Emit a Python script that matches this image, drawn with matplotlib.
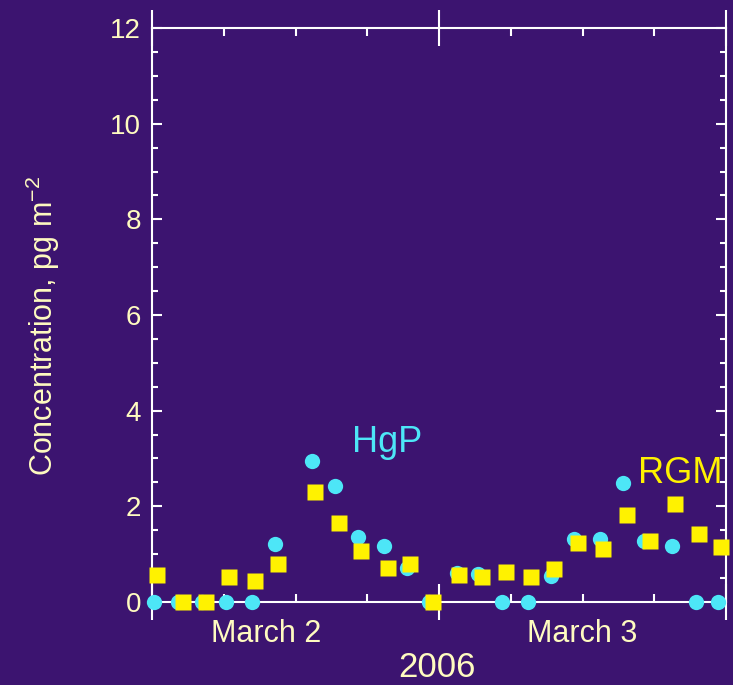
#!/usr/bin/env python3
"""HgP and RGM concentrations, March 2-3 2006."""

import matplotlib

matplotlib.use("Agg")
import matplotlib.pyplot as plt
from matplotlib.ticker import MultipleLocator

# hours since start of March 2, 2006
hgp_hours = [0.2, 2.2, 4.2, 6.2, 8.4, 10.3, 13.4, 15.3, 17.2, 19.4, 21.3, 23.2,
             25.5, 27.3, 29.3, 31.4, 33.4, 35.3, 37.5, 39.4, 41.1, 43.5, 45.5, 47.3]
hgp_values = [0, 0, 0, 0, 0, 1.21, 2.94, 2.43, 1.36, 1.16, 0.72, 0,
              0.61, 0.58, 0, 0, 0.55, 1.32, 1.32, 2.48, 1.28, 1.16, 0, 0]

rgm_hours = [0.4, 2.6, 4.5, 6.4, 8.6, 10.5, 13.6, 15.6, 17.5, 19.7, 21.6, 23.5,
             25.7, 27.6, 29.6, 31.7, 33.6, 35.6, 37.7, 39.7, 41.6, 43.7, 45.7, 47.6]
rgm_values = [0.56, 0, 0, 0.52, 0.43, 0.79, 2.29, 1.65, 1.06, 0.70, 0.79, 0,
              0.56, 0.52, 0.63, 0.52, 0.69, 1.23, 1.11, 1.82, 1.28, 2.05, 1.42, 1.14]

day_labels = ["March 2", "March 3"]
day_label_hours = [9.5, 36.0]

BG = "#3c1470"
CREAM = "#fffbc0"
CYAN = "#4de6f7"
YELLOW = "#fff200"

plt.rcParams["font.family"] = ["Liberation Sans", "DejaVu Sans"]
plt.rcParams["mathtext.fontset"] = "custom"
plt.rcParams["mathtext.rm"] = "Liberation Sans"

fig = plt.figure(figsize=(7.33, 6.85), dpi=100, facecolor=BG)
ax = fig.add_axes([0.2074, 0.1212, 0.7831, 0.8379])
ax.set_facecolor("none")

ax.plot(hgp_hours, hgp_values, "o", ms=11, color=CYAN, mec="none", clip_on=False, zorder=3)
ax.plot(rgm_hours, rgm_values, "s", ms=12, color=YELLOW, mec="none", clip_on=False, zorder=4)

ax.text(19.7, 3.33, "HgP", color=CYAN, fontsize=26, ha="center", va="center")
ax.text(44.2, 2.68, "RGM", color=YELLOW, fontsize=26, ha="center", va="center")

ax.set_xlim(0, 48)
ax.set_ylim(0, 12)

for side in ax.spines.values():
    side.set_color("white")
    side.set_linewidth(1.5)

ax.xaxis.set_major_locator(MultipleLocator(24))
ax.xaxis.set_minor_locator(MultipleLocator(6))
ax.yaxis.set_major_locator(MultipleLocator(2))
ax.yaxis.set_minor_locator(MultipleLocator(0.5))

ax.tick_params(axis="x", which="major", direction="inout", length=26, width=1.5,
               color="white", top=True, bottom=True, labelbottom=False)
ax.tick_params(axis="x", which="minor", direction="in", length=6, width=1.5,
               color="white", top=True, bottom=True)
ax.tick_params(axis="y", which="major", direction="in", length=7.5, width=1.5,
               color="white", left=True, right=True, labelcolor=CREAM, labelsize=20, pad=8)
ax.tick_params(axis="y", which="minor", direction="in", length=4, width=1.5,
               color="white", left=True, right=True)

# day names sit under each half of the axis
trans = ax.get_xaxis_transform()
for h, lab in zip(day_label_hours, day_labels):
    ax.text(h, -0.055, lab, transform=trans, color=CREAM, fontsize=22,
            ha="center", va="center")

fig.text(0.5955, 0.002, "2006", color=CREAM, fontsize=25, ha="center", va="bottom")
fig.text(0.059, 0.524, "Concentration, pg m$^{-2}$", color=CREAM, fontsize=22,
         rotation=90, ha="center", va="center")

fig.savefig("out.png", dpi=100, facecolor=BG)
